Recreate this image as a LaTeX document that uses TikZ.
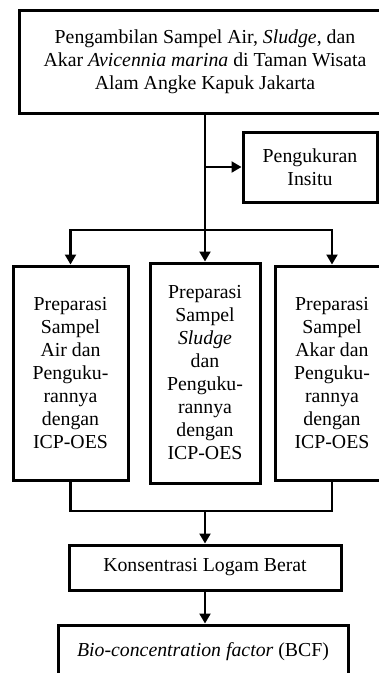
\documentclass[tikz,border=0pt]{standalone}
\usepackage{fontspec}
\setmainfont{Liberation Serif}
\usetikzlibrary{arrows.meta}
\begin{document}
\begin{tikzpicture}[x=1pt,y=-1pt,
    box/.style={draw, line width=3pt, align=center, inner sep=0pt, font=\fontsize{19.8}{23}\selectfont},
    line/.style={line width=2.2pt},
    arr/.style={line width=2.2pt, -{Triangle[length=10pt,width=11pt]}}]
        %fix the size of the page
        \useasboundingbox (0,0) rectangle (379,673);
        \clip (0,0) rectangle (379,673);
        %draw the boxes
        \node[box, minimum width=372pt, minimum height=103pt] (sampling) at (205,61.5)
            {Pengambilan Sampel Air, \textit{Sludge}, dan\\ Akar \textit{Avicennia marina} di Taman Wisata\\ Alam Angke Kapuk Jakarta};
        \node[box, minimum width=134pt, minimum height=70pt] (insitu) at (310,167) {Pengukuran\\ Insitu};
        \node[box, minimum width=115pt, minimum height=214pt] (air) at (70.5,373)
            {Preparasi\\ Sampel\\ Air dan\\ Penguku-\\ rannya\\ dengan\\ ICP-OES};
        \node[box, minimum width=110pt, minimum height=220pt] (sludge) at (205,373)
            {Preparasi\\ Sampel\\ \textit{Sludge}\\ dan\\ Penguku-\\ rannya\\ dengan\\ ICP-OES};
        \node[box, minimum width=114pt, minimum height=214pt] (akar) at (332,373)
            {Preparasi\\ Sampel\\ Akar dan\\ Penguku-\\ rannya\\ dengan\\ ICP-OES};
        \node[box, minimum width=272pt, minimum height=45pt] (logam) at (205,567.5) {Konsentrasi Logam Berat};
        \node[box, minimum width=290pt, minimum height=54pt] (bcf) at (203,652) {\textit{Bio-concentration factor} (BCF)};
        %split and merge points
        \coordinate (split) at (205,230);
        \coordinate (merge) at (205,511);
        %draw the connectors
        \draw[arr] (sampling.south) -- (sludge.north);
        \draw[arr] (insitu.west -| sampling.south) -- (insitu.west);
        \draw[arr] (split) -| (air.north);
        \draw[arr] (split) -| (akar.north);
        \draw[line] (air.south) |- (merge);
        \draw[line] (akar.south) |- (merge);
        \draw[arr] (merge) -- (logam.north);
        \draw[arr] (logam.south -| merge) -- (bcf.north -| merge);
\end{tikzpicture}
\end{document}
